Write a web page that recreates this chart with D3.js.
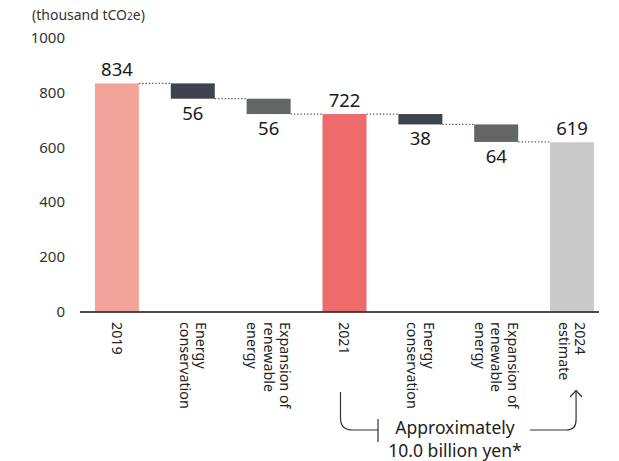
<!DOCTYPE html>
<html><head><meta charset="utf-8">
<script src="https://cdn.jsdelivr.net/npm/d3@7"></script>
<style>
body{margin:0;background:#fff;}
text{font-family:"Noto Sans",sans-serif;}
</style></head>
<body><svg id="c" width="619" height="461"></svg>
<script>
const ids = ["y2019","ec1","re1","y2021","ec2","re2","y2024"];
const labels = [["2019"],["Energy","conservation"],["Expansion of","renewable","energy"],["2021"],["Energy","conservation"],["Expansion of","renewable","energy"],["2024","estimate"]];
const values = [834, 56, 56, 722, 38, 64, 619];
const kinds = ["total","decrease","decrease","total","decrease","decrease","total"];
const colors = ["#F4A59B","#3D444E","#626664","#EE6B6B","#3D444E","#626664","#C9CAC9"];
const yTicks = [0,200,400,600,800,1000];
const unitLabel = "(thousand tCO";
const noteLines = ["Approximately","10.0 billion yen*"];

const svg = d3.select("#c");
const x = d3.scaleBand().domain(ids).range([79,610]).paddingInner(0.42).paddingOuter(0.21);
const y = d3.scaleLinear().domain([0,1000]).range([311.5,38]);

let level = 0;
const segs = ids.map((id,i)=>{
  let top, bottom;
  if(kinds[i]==="total"){ top = values[i]; bottom = 0; level = values[i]; }
  else { top = level; bottom = level - values[i]; level = bottom; }
  return {id, i, top, bottom, v: values[i], kind: kinds[i]};
});

const ul = svg.append("text").attr("x",32).attr("y",20).attr("font-size",14).attr("fill","#333");
ul.append("tspan").text(unitLabel);
ul.append("tspan").attr("font-size",10).text("2");
ul.append("tspan").text("e)");

svg.append("g").selectAll("text").data(yTicks).join("text")
  .attr("x",65).attr("y",d=>y(d)).attr("dy","0.35em")
  .attr("text-anchor","end").attr("font-size",15).attr("fill","#333")
  .text(d=>d);

const conn = [];
for(let i=0;i<segs.length-1;i++){
  const s = segs[i];
  const lv = s.kind==="total" ? s.top : s.bottom;
  conn.push({x1: x(s.id)+x.bandwidth(), x2: x(segs[i+1].id), v: lv});
}
svg.append("g").selectAll("line").data(conn).join("line")
  .attr("x1",d=>d.x1).attr("x2",d=>d.x2).attr("y1",d=>y(d.v)).attr("y2",d=>y(d.v))
  .attr("stroke","#555").attr("stroke-width",1.3).attr("stroke-dasharray","1.3,2");

svg.append("g").selectAll("rect").data(segs).join("rect")
  .attr("x",d=>x(d.id)).attr("width",x.bandwidth())
  .attr("y",d=>y(d.top)).attr("height",d=>y(d.bottom)-y(d.top))
  .attr("fill",(d,i)=>colors[i]);

svg.append("g").selectAll("text").data(segs).join("text")
  .attr("x",d=>x(d.id)+x.bandwidth()/2)
  .attr("y",d=>d.kind==="total" ? y(d.top)-7 : y(d.bottom)+21)
  .attr("text-anchor","middle").attr("font-size",18.5).attr("fill","#1a1a1a")
  .text(d=>d.v);

svg.append("line").attr("x1",80).attr("x2",599).attr("y1",y(0)+0.5).attr("y2",y(0)+0.5)
  .attr("stroke","#111").attr("stroke-width",1.3);

const lh = 16.5;
const xl = svg.append("g").selectAll("g").data(ids).join("g")
  .attr("transform",(d,i)=>{
    const cx = x(d)+x.bandwidth()/2;
    return `translate(${cx},322) rotate(90)`;
  });
xl.each(function(d,i){
  const ls = labels[i];
  const n = ls.length;
  const g = d3.select(this);
  ls.forEach((t,j)=>{
    const off = (j - (n-1)/2)*lh;
    g.append("text").attr("x",0).attr("y",off).attr("dy","0.35em")
      .attr("font-size",14.3).attr("fill","#222").text(t);
  });
});

const lx = x("y2021")+x.bandwidth()/2-4;
const rx = x("y2024")+x.bandwidth()/2+4;
const by = 430;
const ann = svg.append("g").attr("fill","none").attr("stroke","#333").attr("stroke-width",1.2);
ann.append("path").attr("d",`M${lx},392 V${by-12} Q${lx},${by} ${lx+12},${by} H378`);
ann.append("path").attr("d",`M378,${by-11} V${by+12}`);
ann.append("path").attr("d",`M530,${by} H${rx-10} Q${rx},${by} ${rx},${by-10} V391`);
ann.append("path").attr("d",`M${rx-6},${397} L${rx},${390.5} L${rx+6},${397}`);
svg.append("g").selectAll("text").data(noteLines).join("text")
  .attr("x",455).attr("y",(d,i)=>434+i*22.5).attr("text-anchor","middle")
  .attr("font-size",17.5).attr("fill","#222").text(d=>d);
</script></body></html>
